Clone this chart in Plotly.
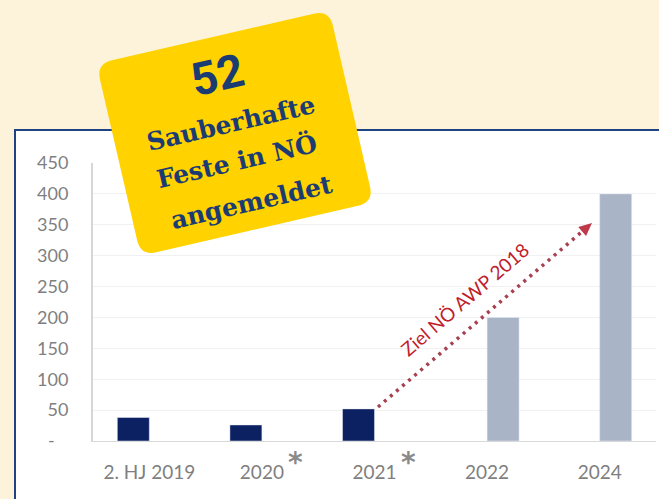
import math
import plotly.graph_objects as go

# ---------------- data ----------------
categories = ["2. HJ 2019", "2020", "2021", "2022", "2024"]
actual = [38, 26, 52, None, None]          # angemeldete Feste (Ist)
target = [None, None, None, 200, 400]      # Ziel NÖ AWP 2018
y_ticks = [0, 50, 100, 150, 200, 250, 300, 350, 400, 450]
y_ticktext = ["-\u00a0\u00a0\u00a0"] + [str(v) for v in y_ticks[1:]]
starred = ["2020", "2021"]

# ---------------- layout geometry ----------------
W, H = 659, 499
ML, MR, MT, MB = 93, 3, 163, 58
PW, PH = W - ML - MR, H - MT - MB
BG = "#fcf3da"


def px(x):
    return (x - ML) / PW


def py(y):
    return (H - MB - y) / PH


NAVY_TXT = "#1b3c73"
fig = go.Figure()
fig.add_trace(go.Bar(x=categories, y=actual, marker_color="#0c2161", name="Ist"))
fig.add_trace(go.Bar(x=categories, y=target, marker_color="#a9b4c7", name="Ziel"))

shapes = []
# white panel with navy top/left border
shapes.append(dict(type="rect", xref="paper", yref="paper",
                   x0=px(15), x1=px(680), y0=py(520), y1=py(130),
                   fillcolor="white", line=dict(color="#1f4282", width=2),
                   layer="below"))

# rotated rounded yellow badge
cx, cy, bw, bh, ang, r = 235, 133, 239, 197, 13.0, 16
ux, uy = math.cos(math.radians(ang)), -math.sin(math.radians(ang))
vx, vy = math.sin(math.radians(ang)), math.cos(math.radians(ang))


def loc(a, b):
    X = cx + a * ux + b * vx
    Y = cy + a * uy + b * vy
    return f"{px(X):.5f},{py(Y):.5f}"


a, b = bw / 2, bh / 2
path = (f"M {loc(-a + r, -b)} L {loc(a - r, -b)} Q {loc(a, -b)} {loc(a, -b + r)} "
        f"L {loc(a, b - r)} Q {loc(a, b)} {loc(a - r, b)} "
        f"L {loc(-a + r, b)} Q {loc(-a, b)} {loc(-a, b - r)} "
        f"L {loc(-a, -b + r)} Q {loc(-a, -b)} {loc(-a + r, -b)} Z")
shapes.append(dict(type="path", xref="paper", yref="paper", path=path,
                   fillcolor="#ffd200", line=dict(width=0), layer="above"))

# dotted target arrow
x0a, y0a, tx, ty = 378, 407, 592, 223
L = math.hypot(tx - x0a, ty - y0a)
dx, dy = (tx - x0a) / L, (ty - y0a) / L
nx, ny = -dy, dx
bx, by = tx - 13 * dx, ty - 13 * dy
shapes.append(dict(type="line", xref="paper", yref="paper",
                   x0=px(x0a), y0=py(y0a), x1=px(bx), y1=py(by),
                   line=dict(color="#a8404f", width=3.5, dash="3px,5px"), layer="above"))
tri = (f"M {px(tx):.5f},{py(ty):.5f} L {px(bx + 6 * nx):.5f},{py(by + 6 * ny):.5f} "
       f"L {px(bx - 6 * nx):.5f},{py(by - 6 * ny):.5f} Z")
shapes.append(dict(type="path", xref="paper", yref="paper", path=tri,
                   fillcolor="#c0394a", line=dict(width=0), layer="above"))

annotations = []
badge_lines = [("52", 217, 75, 46, "Roboto"),
               ("Sauberhafte", 231, 123, 25, "DejaVu Serif"),
               ("Feste in NÖ", 237, 161, 25, "DejaVu Serif"),
               ("angemeldet", 251, 202, 25, "DejaVu Serif")]
for txt, x, y, s, fam in badge_lines:
    annotations.append(dict(text=f"<b>{txt}</b>", x=px(x), y=py(y), xref="paper", yref="paper",
                            xanchor="center", yanchor="middle", showarrow=False,
                            textangle=-ang, font=dict(family=fam, size=s, color=NAVY_TXT)))

annotations.append(dict(text="Ziel NÖ AWP 2018", x=px(464), y=py(299), xref="paper", yref="paper",
                        xanchor="center", yanchor="middle", showarrow=False,
                        textangle=-math.degrees(math.atan2(-dy, dx)),
                        font=dict(family="Lato", size=19, color="#c0202a")))

for c in starred:
    annotations.append(dict(text="<b>*</b>", x=categories.index(c), xref="x", y=py(462), yref="paper",
                            xshift=34, xanchor="center", yanchor="middle", showarrow=False,
                            font=dict(family="DejaVu Sans", size=28, color="#8a8a8a")))

fig.update_layout(
    width=W, height=H,
    margin=dict(l=ML, r=MR, t=MT, b=MB, pad=0),
    paper_bgcolor=BG, plot_bgcolor="rgba(0,0,0,0)",
    barmode="group", bargap=0.432, bargroupgap=0,
    showlegend=False, shapes=shapes, annotations=annotations,
    font=dict(family="Lato", color="#7f7f7f"),
)
fig.update_xaxes(type="category", range=[-0.5, 4.5], showline=True, linecolor="#d9d9d9",
                 linewidth=1, showgrid=False, ticks="outside", ticklen=14,
                 tickcolor="rgba(0,0,0,0)", tickfont=dict(family="Lato", size=19, color="#7f7f7f"),
                 fixedrange=True)
fig.update_yaxes(range=[0, 450], tickvals=y_ticks, ticktext=y_ticktext, showline=True,
                 linecolor="#d6d6d6", linewidth=2, showgrid=True, gridcolor="#f1f1f1",
                 gridwidth=1, zeroline=False, ticks="outside", ticklen=19,
                 tickcolor="rgba(0,0,0,0)", tickfont=dict(family="Lato", size=18, color="#7f7f7f"),
                 fixedrange=True)

fig.write_html("out.html", config={"displayModeBar": False},
               post_script=f"document.body.style.margin='0';document.body.style.background='{BG}';")
